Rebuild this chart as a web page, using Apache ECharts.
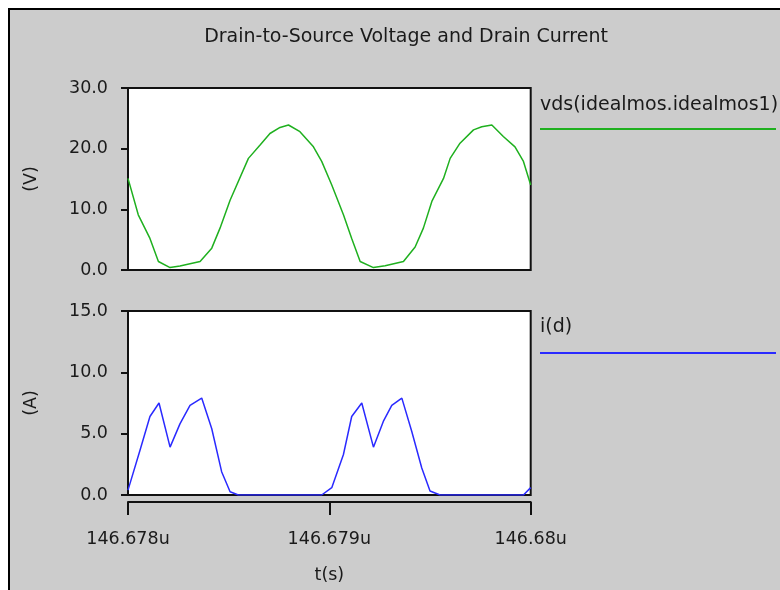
<!DOCTYPE html>
<html>
<head>
<meta charset="utf-8">
<script src="https://cdn.jsdelivr.net/npm/echarts@6/dist/echarts.min.js"></script>
<style>html,body{margin:0;padding:0;background:#fff}#c{width:780px;height:590px}</style>
</head>
<body>
<div id="c"></div>
<script>
// time in ps relative to 146.678us
var vdsTime = [0,51,109,151,209,258,358,416,457,507,598,656,705,755,797,854,921,962,1012,1070,1111,1153,1219,1277,1368,1426,1467,1509,1567,1600,1649,1716,1757,1807,1864,1922,1964,2000];
var vdsValues = [15.1,9.1,5.2,1.4,0.4,0.66,1.4,3.6,6.9,11.5,18.4,20.6,22.5,23.5,23.9,22.8,20.3,17.9,14.0,9.1,5.2,1.4,0.4,0.7,1.4,3.8,6.9,11.3,15.1,18.4,20.9,23.1,23.6,23.9,22.0,20.3,17.9,14.0];
var idTime = [0,60,109,154,209,258,308,366,416,465,507,548,962,1012,1070,1111,1161,1219,1268,1310,1360,1409,1459,1500,1550,1964,2000];
var idValues = [0.4,3.67,6.4,7.5,3.9,5.8,7.3,7.9,5.4,1.9,0.27,0.0,0.0,0.6,3.3,6.4,7.5,3.9,6.0,7.3,7.9,5.2,2.2,0.33,0.0,0.0,0.6];
var timeTickLabels = ['146.678u','146.679u','146.68u'];
var vdsTicks = [0,10,20,30];
var idTicks = [0,5,10,15];
var seriesNames = ['vds(idealmos.idealmos1)','i(d)'];
var titleText = 'Drain-to-Source Voltage and Drain Current';

function pairs(t, v){ return t.map(function(x,i){ return [x, v[i]]; }); }
var FONT = 'DejaVu Sans';
var TXT = '#1a1a1a';
var GREEN = '#1fb01f';
var BLUE = '#2a2aff';
var FS = 17.5;

var chart = echarts.init(document.getElementById('c'));
function yAxisCfg(gi, ticks, name){
  return {
    type:'value', gridIndex:gi, min:ticks[0], max:ticks[ticks.length-1],
    interval:ticks[1]-ticks[0], offset:5,
    name:name, nameLocation:'middle', nameGap:83,
    nameTextStyle:{fontFamily:FONT,fontSize:FS,color:TXT},
    axisLine:{show:true,lineStyle:{color:'#111',width:2}},
    axisTick:{show:true,length:7,lineStyle:{color:'#111',width:2}},
    axisLabel:{fontFamily:FONT,fontSize:FS,color:TXT,margin:15,formatter:function(v){return v.toFixed(1);}},
    splitLine:{show:false}
  };
}
chart.setOption({
  backgroundColor:'#ffffff',
  animation:false,
  title:{text:titleText,left:401,top:23,textAlign:'center',textStyle:{fontFamily:FONT,fontSize:19,fontWeight:'normal',color:TXT}},
  graphic:[
    {type:'rect',z:-10,shape:{x:9,y:9,width:800,height:600},style:{fill:'#cccccc',stroke:'#000',lineWidth:2}},
    {type:'text',left:540,top:96,style:{text:seriesNames[0],font:'19px "DejaVu Sans"',fill:TXT}},
    {type:'line',shape:{x1:540,y1:129,x2:776,y2:129},style:{stroke:GREEN,lineWidth:2}},
    {type:'text',left:540,top:318,style:{text:seriesNames[1],font:'19px "DejaVu Sans"',fill:TXT}},
    {type:'line',shape:{x1:540,y1:353,x2:776,y2:353},style:{stroke:BLUE,lineWidth:2}}
  ],
  grid:[
    {left:128,top:88,width:402.7,height:182,show:true,backgroundColor:'#fff',borderColor:'#111',borderWidth:2},
    {left:128,top:311,width:402.7,height:184,show:true,backgroundColor:'#fff',borderColor:'#111',borderWidth:2}
  ],
  xAxis:[
    {type:'value',gridIndex:0,min:0,max:2000,interval:1000,show:false},
    {type:'value',gridIndex:1,min:0,max:2000,interval:1000,offset:7,position:'bottom',
     name:'t(s)',nameLocation:'middle',nameGap:64,nameTextStyle:{fontFamily:FONT,fontSize:FS,color:TXT},
     axisLine:{show:true,onZero:false,lineStyle:{color:'#111',width:2}},
     axisTick:{show:true,length:13,lineStyle:{color:'#111',width:2}},
     axisLabel:{fontFamily:FONT,fontSize:FS,color:TXT,margin:28,formatter:function(v){return timeTickLabels[Math.round(v/1000)];}},
     splitLine:{show:false}}
  ],
  yAxis:[ yAxisCfg(0, vdsTicks, '(V)'), yAxisCfg(1, idTicks, '(A)') ],
  series:[
    {name:seriesNames[0],type:'line',xAxisIndex:0,yAxisIndex:0,data:pairs(vdsTime,vdsValues),showSymbol:false,lineStyle:{color:GREEN,width:1.5}},
    {name:seriesNames[1],type:'line',xAxisIndex:1,yAxisIndex:1,data:pairs(idTime,idValues),showSymbol:false,lineStyle:{color:BLUE,width:1.5}}
  ]
});
</script>
</body>
</html>
